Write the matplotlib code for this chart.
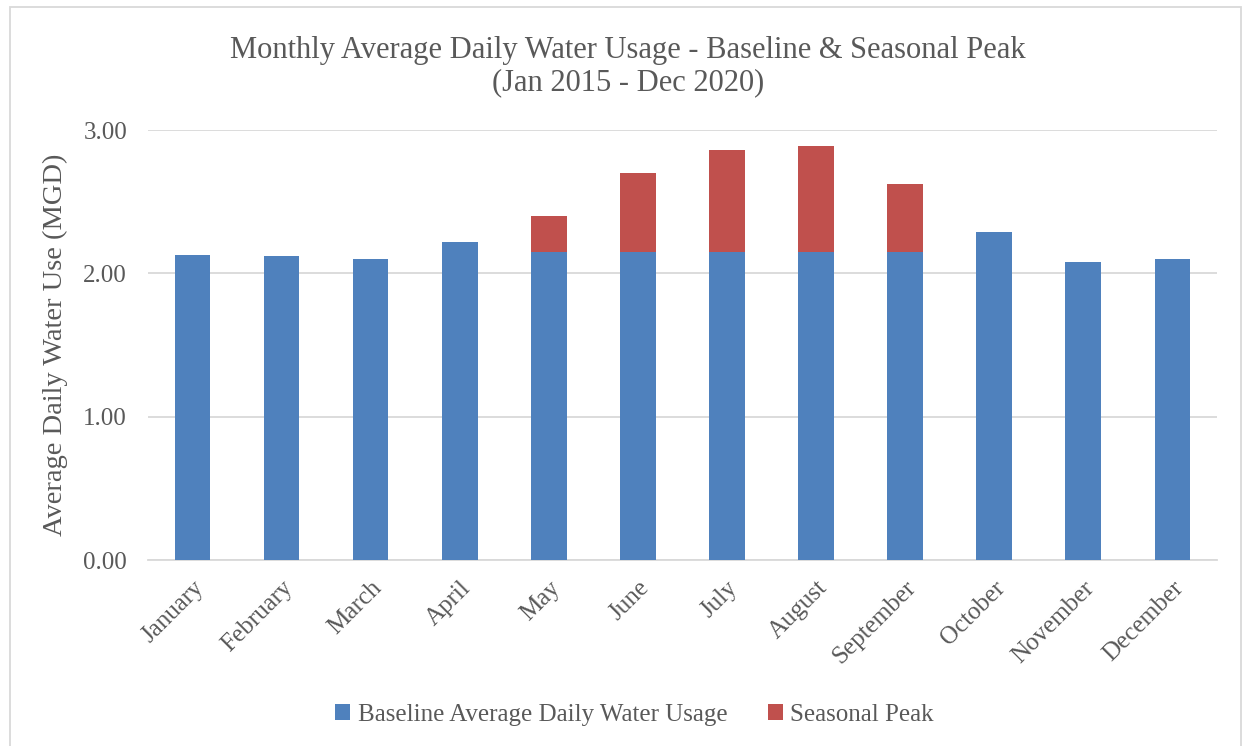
import numpy as np
import matplotlib.pyplot as plt
from matplotlib.patches import Rectangle

# данные
months = ['January', 'February', 'March', 'April', 'May', 'June',
          'July', 'August', 'September', 'October', 'November', 'December']
baseline = [2.13, 2.12, 2.10, 2.22, 2.15, 2.15, 2.15, 2.15, 2.15, 2.29, 2.08, 2.10]
peak = [0, 0, 0, 0, 0.25, 0.55, 0.71, 0.74, 0.47, 0, 0, 0]
yticks = [0, 1, 2, 3]

blue = '#4F81BD'
red = '#C0504D'
txt = '#595959'
plt.rcParams['font.family'] = ['Liberation Serif', 'DejaVu Serif']

fig = plt.figure(figsize=(12.43, 7.46), dpi=100)
ax = fig.add_axes([0.119, 0.2493, 0.86, 0.5764])
x = np.arange(len(months))
ax.bar(x, baseline, width=0.4, color=blue, label='Baseline Average Daily Water Usage', zorder=3)
ax.bar(x, peak, width=0.4, bottom=baseline, color=red, label='Seasonal Peak', zorder=3)

ax.set_xlim(-0.5, len(months) - 0.5)
ax.set_ylim(0, 3)
ax.set_yticks(yticks)
ax.set_yticklabels(['%.2f' % v for v in yticks], fontsize=18, color=txt)
ax.set_xticks(x)
ax.set_xticklabels(months, rotation=45, ha='right', rotation_mode='anchor',
                   fontsize=18, color=txt)
ax.tick_params(axis='y', length=0, pad=15)
ax.tick_params(axis='x', length=0, pad=12)
ax.grid(axis='y', color='#D9D9D9', linewidth=1.3, zorder=0)
for s in ['top', 'right', 'left']:
    ax.spines[s].set_visible(False)
ax.spines['bottom'].set_color('#D9D9D9')
ax.spines['bottom'].set_linewidth(1.3)
ax.set_ylabel('Average Daily Water Use (MGD)', fontsize=20.5, color=txt, labelpad=11)

fig.suptitle('Monthly Average Daily Water Usage - Baseline & Seasonal Peak\n(Jan 2015 - Dec 2020)',
             x=0.505, y=0.952, fontsize=22, color=txt, linespacing=1.15)

ax.legend(loc='center', bbox_to_anchor=(0.5105, 0.042), bbox_transform=fig.transFigure,
          ncol=2, frameon=False, fontsize=18, labelcolor=txt,
          handlelength=0.6, handleheight=0.6, handletextpad=0.3, columnspacing=1.6)

fig.patches.append(Rectangle((0.008, -0.01), 0.99, 1.0, transform=fig.transFigure,
                             fill=False, edgecolor='#D9D9D9', linewidth=1.3))

fig.savefig('out.png', dpi=100)
